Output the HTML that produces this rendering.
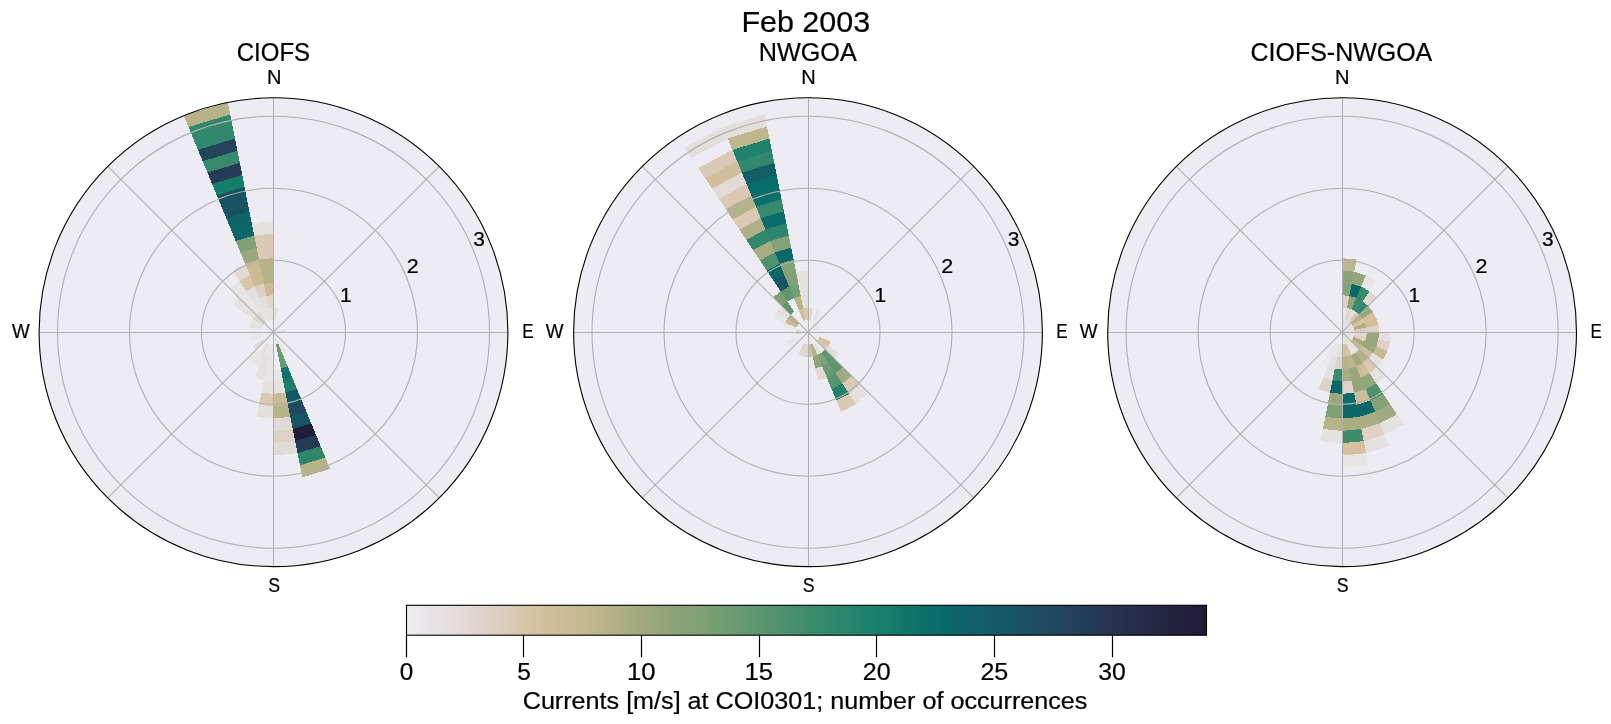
<!DOCTYPE html>
<html><head><meta charset="utf-8"><style>
html,body{margin:0;padding:0;background:#fff;width:1611px;height:724px;overflow:hidden;position:relative}
svg{will-change:transform;-webkit-font-smoothing:antialiased}
</style></head><body>
<svg width="1611" height="724" viewBox="0 0 1611 724" style="position:absolute;left:0;top:0">
<defs>
<clipPath id="c0"><circle cx="273.5" cy="332.2" r="234.4"/></clipPath>
<clipPath id="c1"><circle cx="808.0" cy="332.2" r="234.4"/></clipPath>
<clipPath id="c2"><circle cx="1342.1" cy="332.2" r="234.4"/></clipPath>
<linearGradient id="cbg" x1="0" x2="1" y1="0" y2="0">
<stop offset="0.0000" stop-color="#eeedf2"/>
<stop offset="0.0294" stop-color="#e8e5e7"/>
<stop offset="0.0588" stop-color="#e4dedc"/>
<stop offset="0.0882" stop-color="#e0d6cf"/>
<stop offset="0.1176" stop-color="#dccebe"/>
<stop offset="0.1471" stop-color="#d8c5aa"/>
<stop offset="0.1765" stop-color="#d2be9c"/>
<stop offset="0.2059" stop-color="#cabb94"/>
<stop offset="0.2353" stop-color="#beb68c"/>
<stop offset="0.2647" stop-color="#afb085"/>
<stop offset="0.2941" stop-color="#a0aa7e"/>
<stop offset="0.3235" stop-color="#92a67a"/>
<stop offset="0.3529" stop-color="#85a276"/>
<stop offset="0.3824" stop-color="#779e73"/>
<stop offset="0.4118" stop-color="#6a9a70"/>
<stop offset="0.4412" stop-color="#5c966e"/>
<stop offset="0.4706" stop-color="#4e916d"/>
<stop offset="0.5000" stop-color="#3f8c6c"/>
<stop offset="0.5294" stop-color="#32886c"/>
<stop offset="0.5588" stop-color="#26846c"/>
<stop offset="0.5882" stop-color="#1a806c"/>
<stop offset="0.6176" stop-color="#13786b"/>
<stop offset="0.6471" stop-color="#0c706a"/>
<stop offset="0.6765" stop-color="#0a6869"/>
<stop offset="0.7059" stop-color="#0f6168"/>
<stop offset="0.7353" stop-color="#145a66"/>
<stop offset="0.7647" stop-color="#195362"/>
<stop offset="0.7941" stop-color="#1e4c5e"/>
<stop offset="0.8235" stop-color="#21445a"/>
<stop offset="0.8529" stop-color="#243c55"/>
<stop offset="0.8824" stop-color="#263450"/>
<stop offset="0.9118" stop-color="#252d49"/>
<stop offset="0.9412" stop-color="#242642"/>
<stop offset="0.9706" stop-color="#22203c"/>
<stop offset="1.0000" stop-color="#201a35"/>
</linearGradient></defs>
<circle cx="273.5" cy="332.2" r="234.4" fill="#edecf2"/>
<g clip-path="url(#c0)" shape-rendering="crispEdges">
<path d="M268.78,320.80 L264.06,309.40 L268.69,308.00 L271.09,320.10Z" fill="#e5e1e1"/>
<path d="M264.06,309.40 L259.34,298.01 L266.28,295.90 L268.69,308.00Z" fill="#e4dedc"/>
<path d="M259.34,298.01 L254.62,286.61 L263.87,283.80 L266.28,295.90Z" fill="#ded2c6"/>
<path d="M254.62,286.61 L249.89,275.21 L261.47,271.70 L263.87,283.80Z" fill="#cabb94"/>
<path d="M249.89,275.21 L245.17,263.81 L259.06,259.60 L261.47,271.70Z" fill="#cabb94"/>
<path d="M245.17,263.81 L240.45,252.42 L256.65,247.50 L259.06,259.60Z" fill="#99a87c"/>
<path d="M240.45,252.42 L235.73,241.02 L254.25,235.40 L256.65,247.50Z" fill="#7ea074"/>
<path d="M235.73,241.02 L231.01,229.62 L251.84,223.30 L254.25,235.40Z" fill="#0a6869"/>
<path d="M231.01,229.62 L226.29,218.22 L249.43,211.20 L251.84,223.30Z" fill="#0d6568"/>
<path d="M226.29,218.22 L221.57,206.82 L247.03,199.10 L249.43,211.20Z" fill="#195362"/>
<path d="M221.57,206.82 L216.85,195.43 L244.62,187.00 L247.03,199.10Z" fill="#195362"/>
<path d="M216.85,195.43 L212.13,184.03 L242.21,174.90 L244.62,187.00Z" fill="#167c6c"/>
<path d="M212.13,184.03 L207.40,172.63 L239.80,162.80 L242.21,174.90Z" fill="#243c55"/>
<path d="M207.40,172.63 L202.68,161.23 L237.40,150.70 L239.80,162.80Z" fill="#388a6c"/>
<path d="M202.68,161.23 L197.96,149.84 L234.99,138.60 L237.40,150.70Z" fill="#21445a"/>
<path d="M197.96,149.84 L193.24,138.44 L232.58,126.50 L234.99,138.60Z" fill="#32886c"/>
<path d="M193.24,138.44 L188.52,127.04 L230.18,114.40 L232.58,126.50Z" fill="#32886c"/>
<path d="M188.52,127.04 L183.80,115.64 L227.77,102.30 L230.18,114.40Z" fill="#b7b389"/>
<path d="M271.09,320.10 L268.69,308.00 L273.50,307.53 L273.50,319.86Z" fill="#e5e1e1"/>
<path d="M268.69,308.00 L266.28,295.90 L273.50,295.19 L273.50,307.53Z" fill="#e0d6cf"/>
<path d="M266.28,295.90 L263.87,283.80 L273.50,282.85 L273.50,295.19Z" fill="#cabb94"/>
<path d="M263.87,283.80 L261.47,271.70 L273.50,270.52 L273.50,282.85Z" fill="#b7b389"/>
<path d="M261.47,271.70 L259.06,259.60 L273.50,258.18 L273.50,270.52Z" fill="#b7b389"/>
<path d="M259.06,259.60 L256.65,247.50 L273.50,245.84 L273.50,258.18Z" fill="#dac9b4"/>
<path d="M256.65,247.50 L254.25,235.40 L273.50,233.51 L273.50,245.84Z" fill="#dac9b4"/>
<path d="M254.25,235.40 L251.84,223.30 L273.50,221.17 L273.50,233.51Z" fill="#e5e1e1"/>
<path d="M266.65,321.94 L259.79,311.68 L264.06,309.40 L268.78,320.80Z" fill="#e8e5e7"/>
<path d="M259.79,311.68 L252.94,301.43 L259.34,298.01 L264.06,309.40Z" fill="#e5e1e1"/>
<path d="M252.94,301.43 L246.08,291.17 L254.62,286.61 L259.34,298.01Z" fill="#e4dedc"/>
<path d="M246.08,291.17 L239.23,280.91 L249.89,275.21 L254.62,286.61Z" fill="#d8c5aa"/>
<path d="M239.23,280.91 L232.38,270.65 L245.17,263.81 L249.89,275.21Z" fill="#e2dad7"/>
<path d="M264.78,323.48 L256.05,314.75 L259.79,311.68 L266.65,321.94Z" fill="#e2dad7"/>
<path d="M256.05,314.75 L247.33,306.03 L252.94,301.43 L259.79,311.68Z" fill="#e8e5e7"/>
<path d="M247.33,306.03 L238.61,297.31 L246.08,291.17 L252.94,301.43Z" fill="#e8e5e7"/>
<path d="M238.61,297.31 L229.88,288.58 L239.23,280.91 L246.08,291.17Z" fill="#e8e5e7"/>
<path d="M263.24,325.35 L252.98,318.49 L256.05,314.75 L264.78,323.48Z" fill="#e0d6cf"/>
<path d="M252.98,318.49 L242.73,311.64 L247.33,306.03 L256.05,314.75Z" fill="#e5e1e1"/>
<path d="M242.73,311.64 L232.47,304.78 L238.61,297.31 L247.33,306.03Z" fill="#e5e1e1"/>
<path d="M262.10,327.48 L250.70,322.76 L252.98,318.49 L263.24,325.35Z" fill="#e8e5e7"/>
<path d="M278.22,343.60 L282.94,355.00 L278.31,356.40 L275.91,344.30Z" fill="#6a9a70"/>
<path d="M282.94,355.00 L287.66,366.39 L280.72,368.50 L278.31,356.40Z" fill="#6a9a70"/>
<path d="M287.66,366.39 L292.38,377.79 L283.13,380.60 L280.72,368.50Z" fill="#0f746b"/>
<path d="M292.38,377.79 L297.11,389.19 L285.53,392.70 L283.13,380.60Z" fill="#1a806c"/>
<path d="M297.11,389.19 L301.83,400.59 L287.94,404.80 L285.53,392.70Z" fill="#145a66"/>
<path d="M301.83,400.59 L306.55,411.98 L290.35,416.90 L287.94,404.80Z" fill="#1e4c5e"/>
<path d="M306.55,411.98 L311.27,423.38 L292.75,429.00 L290.35,416.90Z" fill="#165664"/>
<path d="M311.27,423.38 L315.99,434.78 L295.16,441.10 L292.75,429.00Z" fill="#211d38"/>
<path d="M315.99,434.78 L320.71,446.18 L297.57,453.20 L295.16,441.10Z" fill="#243c55"/>
<path d="M320.71,446.18 L325.43,457.58 L299.97,465.30 L297.57,453.20Z" fill="#2c866c"/>
<path d="M325.43,457.58 L330.15,468.97 L302.38,477.40 L299.97,465.30Z" fill="#b7b389"/>
<path d="M273.50,332.20 L278.22,343.60 L275.91,344.30 L273.50,332.20Z" fill="#e5e1e1"/>
<path d="M280.72,368.50 L283.13,380.60 L273.50,381.55 L273.50,369.21Z" fill="#e8e5e7"/>
<path d="M283.13,380.60 L285.53,392.70 L273.50,393.88 L273.50,381.55Z" fill="#e5e1e1"/>
<path d="M285.53,392.70 L287.94,404.80 L273.50,406.22 L273.50,393.88Z" fill="#cabb94"/>
<path d="M287.94,404.80 L290.35,416.90 L273.50,418.56 L273.50,406.22Z" fill="#b7b389"/>
<path d="M290.35,416.90 L292.75,429.00 L273.50,430.89 L273.50,418.56Z" fill="#e2dad7"/>
<path d="M292.75,429.00 L295.16,441.10 L273.50,443.23 L273.50,430.89Z" fill="#ded2c6"/>
<path d="M295.16,441.10 L297.57,453.20 L273.50,455.57 L273.50,443.23Z" fill="#e2dad7"/>
<path d="M273.50,344.54 L273.50,356.87 L268.69,356.40 L271.09,344.30Z" fill="#e8e5e7"/>
<path d="M273.50,356.87 L273.50,369.21 L266.28,368.50 L268.69,356.40Z" fill="#e8e5e7"/>
<path d="M273.50,369.21 L273.50,381.55 L263.87,380.60 L266.28,368.50Z" fill="#e8e5e7"/>
<path d="M273.50,381.55 L273.50,393.88 L261.47,392.70 L263.87,380.60Z" fill="#e5e1e1"/>
<path d="M273.50,393.88 L273.50,406.22 L259.06,404.80 L261.47,392.70Z" fill="#dac9b4"/>
<path d="M273.50,406.22 L273.50,418.56 L256.65,416.90 L259.06,404.80Z" fill="#e4dedc"/>
<path d="M271.09,344.30 L268.69,356.40 L264.06,355.00 L268.78,343.60Z" fill="#e8e5e7"/>
<path d="M268.69,356.40 L266.28,368.50 L259.34,366.39 L264.06,355.00Z" fill="#e5e1e1"/>
<path d="M266.28,368.50 L263.87,380.60 L254.62,377.79 L259.34,366.39Z" fill="#e5e1e1"/>
<path d="M268.78,343.60 L264.06,355.00 L259.79,352.72 L266.65,342.46Z" fill="#e5e1e1"/>
<path d="M264.06,355.00 L259.34,366.39 L252.94,362.97 L259.79,352.72Z" fill="#e8e5e7"/>
<path d="M259.79,352.72 L252.94,362.97 L247.33,358.37 L256.05,349.65Z" fill="#e8e5e7"/>
<path d="M264.78,340.92 L256.05,349.65 L252.98,345.91 L263.24,339.05Z" fill="#e2dad7"/>
<path d="M262.10,336.92 L250.70,341.64 L249.30,337.01 L261.40,334.61Z" fill="#e8e5e7"/>
<path d="M261.40,334.61 L249.30,337.01 L248.83,332.20 L261.16,332.20Z" fill="#ebe9ec"/>
<path d="M261.16,332.20 L248.83,332.20 L249.30,327.39 L261.40,329.79Z" fill="#ebe9ec"/>
<path d="M261.40,329.79 L249.30,327.39 L250.70,322.76 L262.10,327.48Z" fill="#e5e1e1"/>
<path d="M273.50,332.20 L278.22,320.80 L280.35,321.94 L273.50,332.20Z" fill="#e8e5e7"/>
<path d="M273.50,332.20 L285.60,329.79 L285.84,332.20 L273.50,332.20Z" fill="#e2dad7"/>
<path d="M273.50,332.20 L280.35,342.46 L278.22,343.60 L273.50,332.20Z" fill="#e8e5e7"/>
<path d="M280.35,342.46 L287.21,352.72 L282.94,355.00 L278.22,343.60Z" fill="#e8e5e7"/>
<path d="M273.50,319.86 L273.50,307.53 L278.31,308.00 L275.91,320.10Z" fill="#e5e1e1"/>
</g>
<circle cx="273.5" cy="332.2" r="72.0" fill="none" stroke="#b0b0b0" stroke-width="1.1"/>
<circle cx="273.5" cy="332.2" r="144.0" fill="none" stroke="#b0b0b0" stroke-width="1.1"/>
<circle cx="273.5" cy="332.2" r="216.0" fill="none" stroke="#b0b0b0" stroke-width="1.1"/>
<line x1="273.5" y1="332.2" x2="439.25" y2="166.45" stroke="#b0b0b0" stroke-width="1.1"/>
<line x1="273.5" y1="332.2" x2="439.25" y2="497.95" stroke="#b0b0b0" stroke-width="1.1"/>
<line x1="273.5" y1="332.2" x2="107.75" y2="497.95" stroke="#b0b0b0" stroke-width="1.1"/>
<line x1="273.5" y1="332.2" x2="107.75" y2="166.45" stroke="#b0b0b0" stroke-width="1.1"/>
<line x1="273.5" y1="97.80" x2="273.5" y2="566.60" stroke="#b0b0b0" stroke-width="1.05"/>
<line x1="39.10" y1="332.5" x2="507.90" y2="332.5" stroke="#b0b0b0" stroke-width="1.05"/>
<circle cx="273.5" cy="332.2" r="234.4" fill="none" stroke="#000" stroke-width="1.1"/>
<circle cx="808.0" cy="332.2" r="234.4" fill="#edecf2"/>
<g clip-path="url(#c1)" shape-rendering="crispEdges">
<path d="M803.28,320.80 L798.56,309.40 L803.19,308.00 L805.59,320.10Z" fill="#d2be9c"/>
<path d="M798.56,309.40 L793.84,298.01 L800.78,295.90 L803.19,308.00Z" fill="#b7b389"/>
<path d="M793.84,298.01 L789.12,286.61 L798.37,283.80 L800.78,295.90Z" fill="#779e73"/>
<path d="M789.12,286.61 L784.39,275.21 L795.97,271.70 L798.37,283.80Z" fill="#85a276"/>
<path d="M784.39,275.21 L779.67,263.81 L793.56,259.60 L795.97,271.70Z" fill="#85a276"/>
<path d="M779.67,263.81 L774.95,252.42 L791.15,247.50 L793.56,259.60Z" fill="#0a6869"/>
<path d="M774.95,252.42 L770.23,241.02 L788.75,235.40 L791.15,247.50Z" fill="#85a276"/>
<path d="M770.23,241.02 L765.51,229.62 L786.34,223.30 L788.75,235.40Z" fill="#2c866c"/>
<path d="M765.51,229.62 L760.79,218.22 L783.93,211.20 L786.34,223.30Z" fill="#086c6a"/>
<path d="M760.79,218.22 L756.07,206.82 L781.53,199.10 L783.93,211.20Z" fill="#388a6c"/>
<path d="M756.07,206.82 L751.35,195.43 L779.12,187.00 L781.53,199.10Z" fill="#0c706a"/>
<path d="M751.35,195.43 L746.63,184.03 L776.71,174.90 L779.12,187.00Z" fill="#086c6a"/>
<path d="M746.63,184.03 L741.90,172.63 L774.30,162.80 L776.71,174.90Z" fill="#125e67"/>
<path d="M741.90,172.63 L737.18,161.23 L771.90,150.70 L774.30,162.80Z" fill="#32886c"/>
<path d="M737.18,161.23 L732.46,149.84 L769.49,138.60 L771.90,150.70Z" fill="#20826c"/>
<path d="M732.46,149.84 L727.74,138.44 L767.08,126.50 L769.49,138.60Z" fill="#beb68c"/>
<path d="M727.74,138.44 L723.02,127.04 L764.68,114.40 L767.08,126.50Z" fill="#e4dedc"/>
<path d="M787.44,301.43 L780.58,291.17 L789.12,286.61 L793.84,298.01Z" fill="#5c966e"/>
<path d="M780.58,291.17 L773.73,280.91 L784.39,275.21 L789.12,286.61Z" fill="#165664"/>
<path d="M773.73,280.91 L766.88,270.65 L779.67,263.81 L784.39,275.21Z" fill="#0a6869"/>
<path d="M766.88,270.65 L760.02,260.40 L774.95,252.42 L779.67,263.81Z" fill="#4e916d"/>
<path d="M760.02,260.40 L753.17,250.14 L770.23,241.02 L774.95,252.42Z" fill="#a8ad82"/>
<path d="M753.17,250.14 L746.31,239.88 L765.51,229.62 L770.23,241.02Z" fill="#32886c"/>
<path d="M746.31,239.88 L739.46,229.62 L760.79,218.22 L765.51,229.62Z" fill="#afb085"/>
<path d="M739.46,229.62 L732.61,219.37 L756.07,206.82 L760.79,218.22Z" fill="#dac9b4"/>
<path d="M732.61,219.37 L725.75,209.11 L751.35,195.43 L756.07,206.82Z" fill="#b7b389"/>
<path d="M725.75,209.11 L718.90,198.85 L746.63,184.03 L751.35,195.43Z" fill="#dac9b4"/>
<path d="M718.90,198.85 L712.04,188.59 L741.90,172.63 L746.63,184.03Z" fill="#e2dad7"/>
<path d="M712.04,188.59 L705.19,178.33 L737.18,161.23 L741.90,172.63Z" fill="#d2be9c"/>
<path d="M705.19,178.33 L698.34,168.08 L732.46,149.84 L737.18,161.23Z" fill="#dac9b4"/>
<path d="M691.48,157.82 L684.63,147.56 L723.02,127.04 L727.74,138.44Z" fill="#e4dedc"/>
<path d="M790.55,314.75 L781.83,306.03 L787.44,301.43 L794.29,311.68Z" fill="#5c966e"/>
<path d="M781.83,306.03 L773.11,297.31 L780.58,291.17 L787.44,301.43Z" fill="#7ea074"/>
<path d="M805.59,320.10 L803.19,308.00 L808.00,307.53 L808.00,319.86Z" fill="#dac9b4"/>
<path d="M803.19,308.00 L800.78,295.90 L808.00,295.19 L808.00,307.53Z" fill="#e4dedc"/>
<path d="M800.78,295.90 L798.37,283.80 L808.00,282.85 L808.00,295.19Z" fill="#e5e1e1"/>
<path d="M798.37,283.80 L795.97,271.70 L808.00,270.52 L808.00,282.85Z" fill="#e5e1e1"/>
<path d="M797.74,325.35 L787.48,318.49 L790.55,314.75 L799.28,323.48Z" fill="#b7b389"/>
<path d="M787.48,318.49 L777.23,311.64 L781.83,306.03 L790.55,314.75Z" fill="#e5e1e1"/>
<path d="M796.60,327.48 L785.20,322.76 L787.48,318.49 L797.74,325.35Z" fill="#cabb94"/>
<path d="M785.20,322.76 L773.81,318.04 L777.23,311.64 L787.48,318.49Z" fill="#e8e5e7"/>
<path d="M795.90,329.79 L783.80,327.39 L785.20,322.76 L796.60,327.48Z" fill="#e8e5e7"/>
<path d="M808.00,332.20 L795.90,334.61 L795.66,332.20 L808.00,332.20Z" fill="#ded2c6"/>
<path d="M808.00,332.20 L795.66,332.20 L795.90,329.79 L808.00,332.20Z" fill="#e0d6cf"/>
<path d="M808.00,332.20 L812.72,320.80 L814.85,321.94 L808.00,332.20Z" fill="#e8e5e7"/>
<path d="M812.72,320.80 L817.44,309.40 L821.71,311.68 L814.85,321.94Z" fill="#e8e5e7"/>
<path d="M808.00,332.20 L814.85,321.94 L816.72,323.48 L808.00,332.20Z" fill="#e8e5e7"/>
<path d="M808.00,332.20 L816.72,323.48 L818.26,325.35 L808.00,332.20Z" fill="#e8e5e7"/>
<path d="M808.00,332.20 L818.26,325.35 L819.40,327.48 L808.00,332.20Z" fill="#e8e5e7"/>
<path d="M808.00,332.20 L819.40,327.48 L820.10,329.79 L808.00,332.20Z" fill="#e8e5e7"/>
<path d="M797.74,339.05 L787.48,345.91 L785.20,341.64 L796.60,336.92Z" fill="#e8e5e7"/>
<path d="M808.00,319.86 L808.00,307.53 L812.81,308.00 L810.41,320.10Z" fill="#e0d6cf"/>
<path d="M819.40,336.92 L830.80,341.64 L828.52,345.91 L818.26,339.05Z" fill="#d6c0a0"/>
<path d="M818.26,339.05 L828.52,345.91 L825.45,349.65 L816.72,340.92Z" fill="#dac9b4"/>
<path d="M828.52,345.91 L838.77,352.76 L834.17,358.37 L825.45,349.65Z" fill="#e4dedc"/>
<path d="M825.45,349.65 L834.17,358.37 L828.56,362.97 L821.71,352.72Z" fill="#5c966e"/>
<path d="M834.17,358.37 L842.89,367.09 L835.42,373.23 L828.56,362.97Z" fill="#5c966e"/>
<path d="M842.89,367.09 L851.62,375.82 L842.27,383.49 L835.42,373.23Z" fill="#a0aa7e"/>
<path d="M851.62,375.82 L860.34,384.54 L849.12,393.75 L842.27,383.49Z" fill="#dac9b4"/>
<path d="M860.34,384.54 L869.06,393.26 L855.98,404.00 L849.12,393.75Z" fill="#e5e1e1"/>
<path d="M814.85,342.46 L821.71,352.72 L817.44,355.00 L812.72,343.60Z" fill="#e5e1e1"/>
<path d="M821.71,352.72 L828.56,362.97 L822.16,366.39 L817.44,355.00Z" fill="#7ea074"/>
<path d="M828.56,362.97 L835.42,373.23 L826.88,377.79 L822.16,366.39Z" fill="#6a9a70"/>
<path d="M835.42,373.23 L842.27,383.49 L831.61,389.19 L826.88,377.79Z" fill="#55946e"/>
<path d="M842.27,383.49 L849.12,393.75 L836.33,400.59 L831.61,389.19Z" fill="#20826c"/>
<path d="M849.12,393.75 L855.98,404.00 L841.05,411.98 L836.33,400.59Z" fill="#dac9b4"/>
<path d="M812.72,343.60 L817.44,355.00 L812.81,356.40 L810.41,344.30Z" fill="#b7b389"/>
<path d="M817.44,355.00 L822.16,366.39 L815.22,368.50 L812.81,356.40Z" fill="#8ca478"/>
<path d="M822.16,366.39 L826.88,377.79 L817.63,380.60 L815.22,368.50Z" fill="#e2dad7"/>
<path d="M810.41,344.30 L812.81,356.40 L808.00,356.87 L808.00,344.54Z" fill="#d2be9c"/>
<path d="M812.81,356.40 L815.22,368.50 L808.00,369.21 L808.00,356.87Z" fill="#ebe9ec"/>
<path d="M808.00,344.54 L808.00,356.87 L803.19,356.40 L805.59,344.30Z" fill="#e0d6cf"/>
<path d="M805.59,344.30 L803.19,356.40 L798.56,355.00 L803.28,343.60Z" fill="#e0d6cf"/>
</g>
<circle cx="808.0" cy="332.2" r="72.0" fill="none" stroke="#b0b0b0" stroke-width="1.1"/>
<circle cx="808.0" cy="332.2" r="144.0" fill="none" stroke="#b0b0b0" stroke-width="1.1"/>
<circle cx="808.0" cy="332.2" r="216.0" fill="none" stroke="#b0b0b0" stroke-width="1.1"/>
<line x1="808.0" y1="332.2" x2="973.75" y2="166.45" stroke="#b0b0b0" stroke-width="1.1"/>
<line x1="808.0" y1="332.2" x2="973.75" y2="497.95" stroke="#b0b0b0" stroke-width="1.1"/>
<line x1="808.0" y1="332.2" x2="642.25" y2="497.95" stroke="#b0b0b0" stroke-width="1.1"/>
<line x1="808.0" y1="332.2" x2="642.25" y2="166.45" stroke="#b0b0b0" stroke-width="1.1"/>
<line x1="808.5" y1="97.80" x2="808.5" y2="566.60" stroke="#b0b0b0" stroke-width="1.05"/>
<line x1="573.60" y1="332.5" x2="1042.40" y2="332.5" stroke="#b0b0b0" stroke-width="1.05"/>
<circle cx="808.0" cy="332.2" r="234.4" fill="none" stroke="#000" stroke-width="1.1"/>
<circle cx="1342.1" cy="332.2" r="234.4" fill="#edecf2"/>
<g clip-path="url(#c2)" shape-rendering="crispEdges">
<path d="M1342.10,319.86 L1342.10,307.53 L1346.91,308.00 L1344.51,320.10Z" fill="#e8e5e7"/>
<path d="M1342.10,307.53 L1342.10,295.19 L1349.32,295.90 L1346.91,308.00Z" fill="#ded2c6"/>
<path d="M1342.10,295.19 L1342.10,282.85 L1351.73,283.80 L1349.32,295.90Z" fill="#85a276"/>
<path d="M1342.10,282.85 L1342.10,270.52 L1354.13,271.70 L1351.73,283.80Z" fill="#8ca478"/>
<path d="M1342.10,270.52 L1342.10,258.18 L1356.54,259.60 L1354.13,271.70Z" fill="#beb68c"/>
<path d="M1342.10,332.20 L1342.10,319.86 L1344.51,320.10 L1342.10,332.20Z" fill="#e5e1e1"/>
<path d="M1344.51,320.10 L1346.91,308.00 L1351.54,309.40 L1346.82,320.80Z" fill="#e0d6cf"/>
<path d="M1346.91,308.00 L1349.32,295.90 L1356.26,298.01 L1351.54,309.40Z" fill="#8ca478"/>
<path d="M1349.32,295.90 L1351.73,283.80 L1360.98,286.61 L1356.26,298.01Z" fill="#0a6869"/>
<path d="M1351.73,283.80 L1354.13,271.70 L1365.71,275.21 L1360.98,286.61Z" fill="#92a67a"/>
<path d="M1342.10,332.20 L1344.51,320.10 L1346.82,320.80 L1342.10,332.20Z" fill="#e5e1e1"/>
<path d="M1346.82,320.80 L1351.54,309.40 L1355.81,311.68 L1348.95,321.94Z" fill="#e4dedc"/>
<path d="M1351.54,309.40 L1356.26,298.01 L1362.66,301.43 L1355.81,311.68Z" fill="#3f8c6c"/>
<path d="M1356.26,298.01 L1360.98,286.61 L1369.52,291.17 L1362.66,301.43Z" fill="#388a6c"/>
<path d="M1360.98,286.61 L1365.71,275.21 L1376.37,280.91 L1369.52,291.17Z" fill="#e8e5e7"/>
<path d="M1342.10,332.20 L1346.82,320.80 L1348.95,321.94 L1342.10,332.20Z" fill="#e5e1e1"/>
<path d="M1348.95,321.94 L1355.81,311.68 L1359.55,314.75 L1350.82,323.48Z" fill="#dac9b4"/>
<path d="M1355.81,311.68 L1362.66,301.43 L1368.27,306.03 L1359.55,314.75Z" fill="#32886c"/>
<path d="M1362.66,301.43 L1369.52,291.17 L1376.99,297.31 L1368.27,306.03Z" fill="#e0d6cf"/>
<path d="M1342.10,332.20 L1348.95,321.94 L1350.82,323.48 L1342.10,332.20Z" fill="#e5e1e1"/>
<path d="M1342.10,332.20 L1350.82,323.48 L1352.36,325.35 L1342.10,332.20Z" fill="#e8e5e7"/>
<path d="M1350.82,323.48 L1359.55,314.75 L1362.62,318.49 L1352.36,325.35Z" fill="#b7b389"/>
<path d="M1359.55,314.75 L1368.27,306.03 L1372.87,311.64 L1362.62,318.49Z" fill="#99a87c"/>
<path d="M1352.36,325.35 L1362.62,318.49 L1364.90,322.76 L1353.50,327.48Z" fill="#d8c5aa"/>
<path d="M1362.62,318.49 L1372.87,311.64 L1376.29,318.04 L1364.90,322.76Z" fill="#d6c0a0"/>
<path d="M1342.10,332.20 L1352.36,325.35 L1353.50,327.48 L1342.10,332.20Z" fill="#e5e1e1"/>
<path d="M1353.50,327.48 L1364.90,322.76 L1366.30,327.39 L1354.20,329.79Z" fill="#afb085"/>
<path d="M1364.90,322.76 L1376.29,318.04 L1378.40,324.98 L1366.30,327.39Z" fill="#d2be9c"/>
<path d="M1342.10,332.20 L1353.50,327.48 L1354.20,329.79 L1342.10,332.20Z" fill="#e5e1e1"/>
<path d="M1354.20,329.79 L1366.30,327.39 L1366.77,332.20 L1354.44,332.20Z" fill="#dccebe"/>
<path d="M1366.30,327.39 L1378.40,324.98 L1379.11,332.20 L1366.77,332.20Z" fill="#ded2c6"/>
<path d="M1342.10,332.20 L1354.20,329.79 L1354.44,332.20 L1342.10,332.20Z" fill="#e5e1e1"/>
<path d="M1354.44,332.20 L1366.77,332.20 L1366.30,337.01 L1354.20,334.61Z" fill="#e2dad7"/>
<path d="M1366.77,332.20 L1379.11,332.20 L1378.40,339.42 L1366.30,337.01Z" fill="#99a87c"/>
<path d="M1379.11,332.20 L1391.45,332.20 L1390.50,341.83 L1378.40,339.42Z" fill="#e5e1e1"/>
<path d="M1342.10,332.20 L1354.44,332.20 L1354.20,334.61 L1342.10,332.20Z" fill="#e5e1e1"/>
<path d="M1354.20,334.61 L1366.30,337.01 L1364.90,341.64 L1353.50,336.92Z" fill="#ded2c6"/>
<path d="M1366.30,337.01 L1378.40,339.42 L1376.29,346.36 L1364.90,341.64Z" fill="#99a87c"/>
<path d="M1378.40,339.42 L1390.50,341.83 L1387.69,351.08 L1376.29,346.36Z" fill="#ded2c6"/>
<path d="M1342.10,332.20 L1354.20,334.61 L1353.50,336.92 L1342.10,332.20Z" fill="#e5e1e1"/>
<path d="M1353.50,336.92 L1364.90,341.64 L1362.62,345.91 L1352.36,339.05Z" fill="#a0aa7e"/>
<path d="M1364.90,341.64 L1376.29,346.36 L1372.87,352.76 L1362.62,345.91Z" fill="#99a87c"/>
<path d="M1376.29,346.36 L1387.69,351.08 L1383.13,359.62 L1372.87,352.76Z" fill="#c6b990"/>
<path d="M1342.10,332.20 L1353.50,336.92 L1352.36,339.05 L1342.10,332.20Z" fill="#e5e1e1"/>
<path d="M1352.36,339.05 L1362.62,345.91 L1359.55,349.65 L1350.82,340.92Z" fill="#c6b990"/>
<path d="M1362.62,345.91 L1372.87,352.76 L1368.27,358.37 L1359.55,349.65Z" fill="#d2be9c"/>
<path d="M1372.87,352.76 L1383.13,359.62 L1376.99,367.09 L1368.27,358.37Z" fill="#e5e1e1"/>
<path d="M1342.10,332.20 L1352.36,339.05 L1350.82,340.92 L1342.10,332.20Z" fill="#e5e1e1"/>
<path d="M1350.82,340.92 L1359.55,349.65 L1355.81,352.72 L1348.95,342.46Z" fill="#e5e1e1"/>
<path d="M1359.55,349.65 L1368.27,358.37 L1362.66,362.97 L1355.81,352.72Z" fill="#b7b389"/>
<path d="M1368.27,358.37 L1376.99,367.09 L1369.52,373.23 L1362.66,362.97Z" fill="#dac9b4"/>
<path d="M1376.99,367.09 L1385.72,375.82 L1376.37,383.49 L1369.52,373.23Z" fill="#e5e1e1"/>
<path d="M1342.10,332.20 L1350.82,340.92 L1348.95,342.46 L1342.10,332.20Z" fill="#e5e1e1"/>
<path d="M1348.95,342.46 L1355.81,352.72 L1351.54,355.00 L1346.82,343.60Z" fill="#e8e5e7"/>
<path d="M1355.81,352.72 L1362.66,362.97 L1356.26,366.39 L1351.54,355.00Z" fill="#a0aa7e"/>
<path d="M1362.66,362.97 L1369.52,373.23 L1360.98,377.79 L1356.26,366.39Z" fill="#cebc98"/>
<path d="M1369.52,373.23 L1376.37,383.49 L1365.71,389.19 L1360.98,377.79Z" fill="#92a67a"/>
<path d="M1376.37,383.49 L1383.22,393.75 L1370.43,400.59 L1365.71,389.19Z" fill="#4e916d"/>
<path d="M1383.22,393.75 L1390.08,404.00 L1375.15,411.98 L1370.43,400.59Z" fill="#85a276"/>
<path d="M1390.08,404.00 L1396.93,414.26 L1379.87,423.38 L1375.15,411.98Z" fill="#a0aa7e"/>
<path d="M1396.93,414.26 L1403.79,424.52 L1384.59,434.78 L1379.87,423.38Z" fill="#e5e1e1"/>
<path d="M1342.10,332.20 L1348.95,342.46 L1346.82,343.60 L1342.10,332.20Z" fill="#e5e1e1"/>
<path d="M1346.82,343.60 L1351.54,355.00 L1346.91,356.40 L1344.51,344.30Z" fill="#d8c5aa"/>
<path d="M1351.54,355.00 L1356.26,366.39 L1349.32,368.50 L1346.91,356.40Z" fill="#beb68c"/>
<path d="M1356.26,366.39 L1360.98,377.79 L1351.73,380.60 L1349.32,368.50Z" fill="#99a87c"/>
<path d="M1360.98,377.79 L1365.71,389.19 L1354.13,392.70 L1351.73,380.60Z" fill="#92a67a"/>
<path d="M1365.71,389.19 L1370.43,400.59 L1356.54,404.80 L1354.13,392.70Z" fill="#cebc98"/>
<path d="M1370.43,400.59 L1375.15,411.98 L1358.95,416.90 L1356.54,404.80Z" fill="#0a6869"/>
<path d="M1375.15,411.98 L1379.87,423.38 L1361.35,429.00 L1358.95,416.90Z" fill="#a8ad82"/>
<path d="M1379.87,423.38 L1384.59,434.78 L1363.76,441.10 L1361.35,429.00Z" fill="#ded2c6"/>
<path d="M1384.59,434.78 L1389.31,446.18 L1366.17,453.20 L1363.76,441.10Z" fill="#e5e1e1"/>
<path d="M1342.10,332.20 L1346.82,343.60 L1344.51,344.30 L1342.10,332.20Z" fill="#e5e1e1"/>
<path d="M1344.51,344.30 L1346.91,356.40 L1342.10,356.87 L1342.10,344.54Z" fill="#d6c0a0"/>
<path d="M1346.91,356.40 L1349.32,368.50 L1342.10,369.21 L1342.10,356.87Z" fill="#b7b389"/>
<path d="M1349.32,368.50 L1351.73,380.60 L1342.10,381.55 L1342.10,369.21Z" fill="#a8ad82"/>
<path d="M1351.73,380.60 L1354.13,392.70 L1342.10,393.88 L1342.10,381.55Z" fill="#ded2c6"/>
<path d="M1354.13,392.70 L1356.54,404.80 L1342.10,406.22 L1342.10,393.88Z" fill="#086c6a"/>
<path d="M1356.54,404.80 L1358.95,416.90 L1342.10,418.56 L1342.10,406.22Z" fill="#0a6869"/>
<path d="M1358.95,416.90 L1361.35,429.00 L1342.10,430.89 L1342.10,418.56Z" fill="#a8ad82"/>
<path d="M1361.35,429.00 L1363.76,441.10 L1342.10,443.23 L1342.10,430.89Z" fill="#3f8c6c"/>
<path d="M1363.76,441.10 L1366.17,453.20 L1342.10,455.57 L1342.10,443.23Z" fill="#d6c0a0"/>
<path d="M1366.17,453.20 L1368.57,465.30 L1342.10,467.91 L1342.10,455.57Z" fill="#e8e5e7"/>
<path d="M1342.10,344.54 L1342.10,356.87 L1337.29,356.40 L1339.69,344.30Z" fill="#e5e1e1"/>
<path d="M1342.10,356.87 L1342.10,369.21 L1334.88,368.50 L1337.29,356.40Z" fill="#ded2c6"/>
<path d="M1342.10,369.21 L1342.10,381.55 L1332.47,380.60 L1334.88,368.50Z" fill="#388a6c"/>
<path d="M1342.10,381.55 L1342.10,393.88 L1330.07,392.70 L1332.47,380.60Z" fill="#0a6869"/>
<path d="M1342.10,393.88 L1342.10,406.22 L1327.66,404.80 L1330.07,392.70Z" fill="#99a87c"/>
<path d="M1342.10,406.22 L1342.10,418.56 L1325.25,416.90 L1327.66,404.80Z" fill="#7ea074"/>
<path d="M1342.10,418.56 L1342.10,430.89 L1322.85,429.00 L1325.25,416.90Z" fill="#b7b389"/>
<path d="M1342.10,430.89 L1342.10,443.23 L1320.44,441.10 L1322.85,429.00Z" fill="#e5e1e1"/>
<path d="M1339.69,344.30 L1337.29,356.40 L1332.66,355.00 L1337.38,343.60Z" fill="#e8e5e7"/>
<path d="M1337.29,356.40 L1334.88,368.50 L1327.94,366.39 L1332.66,355.00Z" fill="#e5e1e1"/>
<path d="M1334.88,368.50 L1332.47,380.60 L1323.22,377.79 L1327.94,366.39Z" fill="#e4dedc"/>
<path d="M1332.47,380.60 L1330.07,392.70 L1318.49,389.19 L1323.22,377.79Z" fill="#ded2c6"/>
<path d="M1337.38,343.60 L1332.66,355.00 L1328.39,352.72 L1335.25,342.46Z" fill="#e8e5e7"/>
<path d="M1332.66,355.00 L1327.94,366.39 L1321.54,362.97 L1328.39,352.72Z" fill="#ebe9ec"/>
<path d="M1342.10,332.20 L1330.70,336.92 L1330.00,334.61 L1342.10,332.20Z" fill="#ebe9ec"/>
</g>
<circle cx="1342.1" cy="332.2" r="72.0" fill="none" stroke="#b0b0b0" stroke-width="1.1"/>
<circle cx="1342.1" cy="332.2" r="144.0" fill="none" stroke="#b0b0b0" stroke-width="1.1"/>
<circle cx="1342.1" cy="332.2" r="216.0" fill="none" stroke="#b0b0b0" stroke-width="1.1"/>
<line x1="1342.1" y1="332.2" x2="1507.85" y2="166.45" stroke="#b0b0b0" stroke-width="1.1"/>
<line x1="1342.1" y1="332.2" x2="1507.85" y2="497.95" stroke="#b0b0b0" stroke-width="1.1"/>
<line x1="1342.1" y1="332.2" x2="1176.35" y2="497.95" stroke="#b0b0b0" stroke-width="1.1"/>
<line x1="1342.1" y1="332.2" x2="1176.35" y2="166.45" stroke="#b0b0b0" stroke-width="1.1"/>
<line x1="1342.5" y1="97.80" x2="1342.5" y2="566.60" stroke="#b0b0b0" stroke-width="1.05"/>
<line x1="1107.70" y1="332.5" x2="1576.50" y2="332.5" stroke="#b0b0b0" stroke-width="1.05"/>
<circle cx="1342.1" cy="332.2" r="234.4" fill="none" stroke="#000" stroke-width="1.1"/>
<g font-family="Liberation Sans, sans-serif" fill="#000" stroke="#000" stroke-width="0.22">
<text x="741.40" y="32.00" font-size="29.45" textLength="128.76" lengthAdjust="spacingAndGlyphs">Feb 2003</text>
<text x="236.78" y="60.90" font-size="26.50" textLength="73.32" lengthAdjust="spacingAndGlyphs">CIOFS</text>
<text x="758.73" y="60.80" font-size="26.50" textLength="98.11" lengthAdjust="spacingAndGlyphs">NWGOA</text>
<text x="1250.53" y="60.80" font-size="26.50" textLength="181.73" lengthAdjust="spacingAndGlyphs">CIOFS-NWGOA</text>
<text x="267.01" y="83.80" font-size="20.61" textLength="14.47" lengthAdjust="spacingAndGlyphs">N</text>
<text x="268.13" y="591.70" font-size="20.61" textLength="11.83" lengthAdjust="spacingAndGlyphs">S</text>
<text x="522.36" y="338.10" font-size="20.61" textLength="11.32" lengthAdjust="spacingAndGlyphs">E</text>
<text x="11.91" y="338.10" font-size="20.61" textLength="17.77" lengthAdjust="spacingAndGlyphs">W</text>
<text x="340.01" y="301.50" font-size="20.61" textLength="11.61" lengthAdjust="spacingAndGlyphs">1</text>
<text x="406.83" y="273.20" font-size="20.61" textLength="11.95" lengthAdjust="spacingAndGlyphs">2</text>
<text x="473.36" y="246.10" font-size="20.61" textLength="11.62" lengthAdjust="spacingAndGlyphs">3</text>
<text x="801.21" y="83.80" font-size="20.61" textLength="14.47" lengthAdjust="spacingAndGlyphs">N</text>
<text x="802.63" y="591.70" font-size="20.61" textLength="11.83" lengthAdjust="spacingAndGlyphs">S</text>
<text x="1056.36" y="338.10" font-size="20.61" textLength="11.32" lengthAdjust="spacingAndGlyphs">E</text>
<text x="545.81" y="338.10" font-size="20.61" textLength="17.77" lengthAdjust="spacingAndGlyphs">W</text>
<text x="874.51" y="301.50" font-size="20.61" textLength="11.61" lengthAdjust="spacingAndGlyphs">1</text>
<text x="941.33" y="273.20" font-size="20.61" textLength="11.95" lengthAdjust="spacingAndGlyphs">2</text>
<text x="1007.86" y="246.10" font-size="20.61" textLength="11.62" lengthAdjust="spacingAndGlyphs">3</text>
<text x="1335.11" y="83.80" font-size="20.61" textLength="14.47" lengthAdjust="spacingAndGlyphs">N</text>
<text x="1336.73" y="591.70" font-size="20.61" textLength="11.83" lengthAdjust="spacingAndGlyphs">S</text>
<text x="1590.41" y="338.10" font-size="20.61" textLength="11.32" lengthAdjust="spacingAndGlyphs">E</text>
<text x="1079.71" y="338.10" font-size="20.61" textLength="17.77" lengthAdjust="spacingAndGlyphs">W</text>
<text x="1408.61" y="301.50" font-size="20.61" textLength="11.61" lengthAdjust="spacingAndGlyphs">1</text>
<text x="1475.43" y="273.20" font-size="20.61" textLength="11.95" lengthAdjust="spacingAndGlyphs">2</text>
<text x="1541.96" y="246.10" font-size="20.61" textLength="11.62" lengthAdjust="spacingAndGlyphs">3</text>
<text x="399.70" y="680.20" font-size="23.55" textLength="13.50" lengthAdjust="spacingAndGlyphs">0</text>
<text x="517.27" y="680.20" font-size="23.55" textLength="13.61" lengthAdjust="spacingAndGlyphs">5</text>
<text x="626.90" y="680.20" font-size="23.55" textLength="28.56" lengthAdjust="spacingAndGlyphs">10</text>
<text x="744.49" y="680.20" font-size="23.55" textLength="28.65" lengthAdjust="spacingAndGlyphs">15</text>
<text x="862.80" y="680.20" font-size="23.55" textLength="27.83" lengthAdjust="spacingAndGlyphs">20</text>
<text x="980.40" y="680.20" font-size="23.55" textLength="27.92" lengthAdjust="spacingAndGlyphs">25</text>
<text x="1098.31" y="680.20" font-size="23.55" textLength="27.51" lengthAdjust="spacingAndGlyphs">30</text>
<text x="522.72" y="708.70" font-size="23.55" textLength="564.68" lengthAdjust="spacingAndGlyphs">Currents [m/s] at COI0301; number of occurrences</text>
</g>
<rect x="406.5" y="605.3" width="800.0" height="29.90000000000009" fill="url(#cbg)" stroke="#000" stroke-width="1.1"/>
<line x1="406.50" y1="635.2" x2="406.50" y2="657.3" stroke="#000" stroke-width="1.2"/>
<line x1="523.50" y1="635.2" x2="523.50" y2="657.3" stroke="#000" stroke-width="1.2"/>
<line x1="641.50" y1="635.2" x2="641.50" y2="657.3" stroke="#000" stroke-width="1.2"/>
<line x1="759.50" y1="635.2" x2="759.50" y2="657.3" stroke="#000" stroke-width="1.2"/>
<line x1="876.50" y1="635.2" x2="876.50" y2="657.3" stroke="#000" stroke-width="1.2"/>
<line x1="994.50" y1="635.2" x2="994.50" y2="657.3" stroke="#000" stroke-width="1.2"/>
<line x1="1112.50" y1="635.2" x2="1112.50" y2="657.3" stroke="#000" stroke-width="1.2"/>
</svg>
</body></html>
